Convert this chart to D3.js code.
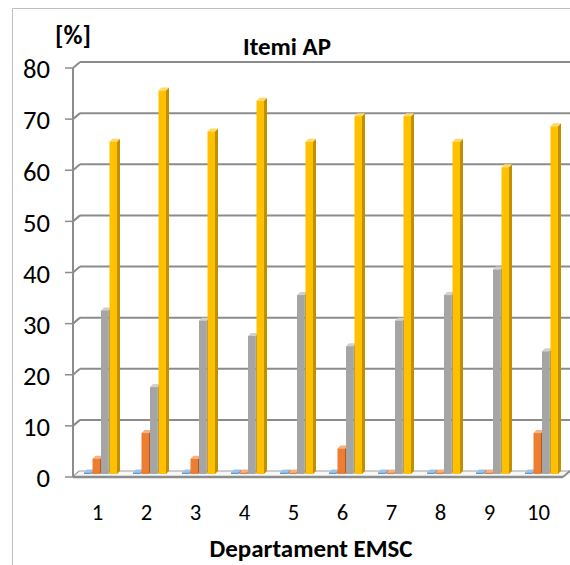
<!DOCTYPE html>
<html><head><meta charset="utf-8">
<script src="https://cdn.jsdelivr.net/npm/d3@7"></script>
<style>body{margin:0;background:#fff}svg{display:block}</style>
</head><body>
<script>
const categories = ["1","2","3","4","5","6","7","8","9","10"];
const seriesNames = ["S1","S2","S3","S4"];
const s1 = [0,0,0,0,0,0,0,0,0,0];
const s2 = [3,8,3,0,0,5,0,0,0,8];
const s3 = [32,17,30,27,35,25,30,35,40,24];
const s4 = [65,75,67,73,65,70,70,65,60,68];
const yTicks = [0,10,20,30,40,50,60,70,80];
const colors = {S1:["#5B9BD5","#41719C","#9DC3E6"],S2:["#ED7D31","#AE5A21","#F4B183"],S3:["#A5A5A5","#7B7B7B","#D0D0D0"],S4:["#FFC000","#BF9000","#FFD966"]};
const values = {S1:s1,S2:s2,S3:s3,S4:s4};

const W=570,H=565;
const svg=d3.select("body").append("svg").attr("width",W).attr("height",H);
const font="Calibri, Carlito, Lato, sans-serif";

// size a font so that a sample text gets a given width
function fitSize(sample, weight, target){
  const t=svg.append("text").attr("font-family",font).attr("font-weight",weight).attr("font-size",20).text(sample);
  const w=t.node().getComputedTextLength();
  t.remove();
  return w>0 ? 20*target/w : 20;
}
const fsY=fitSize("80","normal",27);
const fsX=fitSize("10","normal",23);
const fsTitle=fitSize("Itemi AP","bold",88);
const fsXT=fitSize("Departament EMSC","bold",203);
const fsUnit=fitSize("[%]","bold",36);

// border
svg.append("path").attr("d","M12.5,565 L12.5,8.5 L570,8.5").attr("fill","none").attr("stroke","#BFBFBF").attr("stroke-width",1);

const dx=7, dy=6;
const xLeft=73, xRight=563;
const yBack=d3.scaleLinear().domain([0,80]).range([471,62]);
const yFront=v=>yBack(v)+dy;
const yBar=d3.scaleLinear().domain([0,80]).range([474,65]);

const x=d3.scaleBand().domain(categories).range([xLeft,xRight]).padding(0);
const xs=d3.scaleBand().domain(seriesNames).range([11,45]).padding(0);

const grid=svg.append("g");
yTicks.forEach(v=>{
  const yb=yBack(v), yf=yFront(v);
  if(v>0){
    grid.append("line").attr("x1",xLeft+dx).attr("x2",W).attr("y1",yb).attr("y2",yb).attr("stroke","#8C8C8C").attr("stroke-width",2);
  }
  grid.append("line").attr("x1",xLeft).attr("x2",xLeft+dx).attr("y1",yf).attr("y2",yb).attr("stroke","#8C8C8C").attr("stroke-width",2);
  grid.append("line").attr("x1",xLeft-8).attr("x2",xLeft).attr("y1",yf).attr("y2",yf).attr("stroke","#8C8C8C").attr("stroke-width",1.5);
});
grid.append("line").attr("x1",xLeft).attr("x2",xLeft).attr("y1",yFront(0)).attr("y2",yFront(80)).attr("stroke","#8C8C8C").attr("stroke-width",2);
// floor
const y0b=yBack(0), y0f=yFront(0);
grid.append("path").attr("d",`M${xLeft},${y0f} L${xLeft+dx},${y0b} L${xRight+dx},${y0b} L${xRight},${y0f} Z`).attr("fill","#F7F7F7").attr("stroke","none");
grid.append("line").attr("x1",xLeft+dx).attr("x2",xRight+dx).attr("y1",y0b).attr("y2",y0b).attr("stroke","#BFBFBF").attr("stroke-width",1.5);
grid.append("line").attr("x1",xLeft).attr("x2",xRight).attr("y1",y0f).attr("y2",y0f).attr("stroke","#8C8C8C").attr("stroke-width",2.5);
grid.append("line").attr("x1",xRight).attr("x2",xRight+dx).attr("y1",y0f).attr("y2",y0b).attr("stroke","#8C8C8C").attr("stroke-width",2);

// bars
const bw=7.5, sd=3, td=3;
const bars=svg.append("g");
categories.forEach((c,i)=>{
  seriesNames.forEach(s=>{
    const v=values[s][i];
    const x0=x(c)+xs(s);
    const yb=yBar(0);
    let yt=yBar(v);
    if(yb-yt<1.5) yt=yb-1.5;
    const col=colors[s];
    const g=bars.append("g");
    g.append("path").attr("d",`M${x0+bw},${yt} L${x0+bw+sd},${yt-td} L${x0+bw+sd},${yb-td} L${x0+bw},${yb} Z`).attr("fill",col[1]);
    g.append("path").attr("d",`M${x0},${yt} L${x0+sd},${yt-td} L${x0+bw+sd},${yt-td} L${x0+bw},${yt} Z`).attr("fill",col[2]);
    g.append("rect").attr("x",x0).attr("y",yt).attr("width",bw).attr("height",yb-yt).attr("fill",col[0]);
  });
});

// y labels
svg.append("g").selectAll("text").data(yTicks).join("text")
  .attr("x",50).attr("y",v=>yFront(v)+1).attr("dy","0.35em").attr("text-anchor","end")
  .attr("font-family",font).attr("font-size",fsY).attr("fill","#000").text(v=>v);
// x labels
svg.append("g").selectAll("text").data(categories).join("text")
  .attr("x",c=>x(c)+x.bandwidth()/2).attr("y",512).attr("dy","0.35em").attr("text-anchor","middle")
  .attr("font-family",font).attr("font-size",fsX).attr("fill","#000").text(c=>c);

svg.append("text").attr("x",73).attr("y",35).attr("dy","0.35em").attr("text-anchor","middle")
  .attr("font-family",font).attr("font-size",fsUnit).attr("font-weight","bold").text("[%]");
svg.append("text").attr("x",287).attr("y",46).attr("dy","0.35em").attr("text-anchor","middle")
  .attr("font-family",font).attr("font-size",fsTitle).attr("font-weight","bold").text("Itemi AP");
svg.append("text").attr("x",311).attr("y",548).attr("dy","0.35em").attr("text-anchor","middle")
  .attr("font-family",font).attr("font-size",fsXT).attr("font-weight","bold").text("Departament EMSC");
</script>
</body></html>
